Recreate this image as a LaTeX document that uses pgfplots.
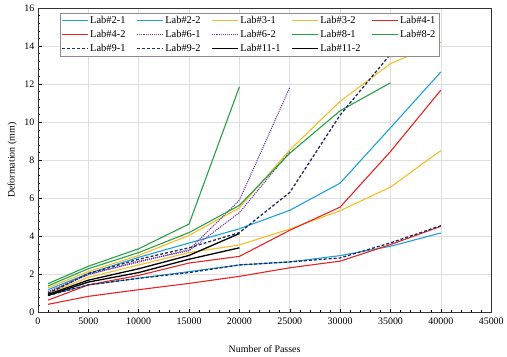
\documentclass[border=0pt]{standalone}
\usepackage{pgfplots}
\pgfplotsset{compat=1.18}
\usepackage{fontspec}
\setmainfont{Liberation Serif}
\definecolor{cblue}{RGB}{30,160,220}
\definecolor{cyellow}{RGB}{245,190,40}
\definecolor{cred}{RGB}{230,35,35}
\definecolor{cgreen}{RGB}{40,160,70}
\definecolor{cpurple}{RGB}{112,60,160}
\definecolor{cnavy}{RGB}{31,45,96}
\begin{document}
\begin{tikzpicture}
\begin{axis}[
  scale only axis, width=454bp, height=305bp,
  xmin=0, xmax=45000, ymin=0, ymax=16,
  xtick={0,5000,...,45000}, ytick={0,2,...,16},
  minor x tick num=4, minor y tick num=4,
  scaled x ticks=false,
  /pgf/number format/.cd, 1000 sep={}, assume math mode=true,
  /pgfplots/.cd,
  tick pos=left, tick align=inside,
  major tick length=4bp, minor tick length=2.5bp,
  grid=major, major grid style={draw=black!13, line width=0.6pt},
  axis line style={black!80, line width=0.8pt},
  every tick/.style={black, line width=0.5pt},
  tick label style={font=\fontsize{10}{12}\selectfont},
  xticklabel style={yshift=-2bp},
  xlabel={Number of Passes}, ylabel={Deformation (mm)},
  label style={font=\fontsize{10.5}{12}\selectfont},
  every axis x label/.style={at={(axis description cs:0.5,-0.121)}, anchor=center},
  every axis y label/.style={at={(axis description cs:-0.057,0.5)}, rotate=90, anchor=center},
  legend columns=5,
  legend cell align=left,
  legend image code/.code={\draw[#1] (0cm,0cm) -- (0.9cm,0cm);},
  legend style={at={(axis description cs:0.048,0.984)}, anchor=north west,
    draw=black!45, fill=white,
    font=\fontsize{10.5}{11}\selectfont, inner sep=1.5pt, row sep=1pt,
    /tikz/every even column/.append style={column sep=9bp}},
]
\addplot[cblue, line width=1.1pt] coordinates {(1000,0.9)(5000,1.45)(10000,1.8)(15000,2.15)(20000,2.5)(25000,2.66)(30000,2.99)(35000,3.48)(40000,4.18)};
\addlegendentry{Lab\#2-1}
\addplot[cblue, line width=1.1pt] coordinates {(1000,1.2)(5000,2.05)(10000,2.9)(15000,3.65)(20000,4.4)(25000,5.37)(30000,6.8)(35000,9.71)(40000,12.64)};
\addlegendentry{Lab\#2-2}
\addplot[cyellow, line width=1.1pt] coordinates {(1000,1.3)(5000,2.15)(10000,3.0)(15000,4.05)(20000,5.5)(25000,8.54)(30000,11.1)(35000,13.08)(40000,14.2)};
\addlegendentry{Lab\#3-1}
\addplot[cyellow, line width=1.1pt] coordinates {(1000,1.0)(5000,1.85)(10000,2.5)(15000,3.15)(20000,3.55)(25000,4.39)(30000,5.35)(35000,6.59)(40000,8.51)};
\addlegendentry{Lab\#3-2}
\addplot[cred, line width=1.1pt] coordinates {(1000,0.65)(5000,1.45)(10000,1.95)(15000,2.6)(20000,2.95)(25000,4.32)(30000,5.54)(35000,8.46)(40000,11.69)};
\addlegendentry{Lab\#4-1}
\addplot[cred, line width=1.1pt] coordinates {(1000,0.43)(5000,0.85)(10000,1.2)(15000,1.53)(20000,1.9)(25000,2.35)(30000,2.7)(35000,3.57)(40000,4.53)};
\addlegendentry{Lab\#4-2}
\addplot[cpurple, densely dotted, line width=1.1pt] coordinates {(1000,1.05)(5000,2.0)(10000,2.65)(15000,3.3)(20000,5.9)(25000,11.83)};
\addlegendentry{Lab\#6-1}
\addplot[cpurple, densely dotted, line width=1.1pt] coordinates {(1000,1.1)(5000,2.0)(10000,2.7)(15000,3.25)(20000,5.25)(25000,8.45)};
\addlegendentry{Lab\#6-2}
\addplot[cgreen, line width=1.1pt] coordinates {(1000,1.4)(5000,2.3)(10000,3.15)(15000,4.2)(20000,5.63)(25000,8.37)(30000,10.6)(35000,12.07)};
\addlegendentry{Lab\#8-1}
\addplot[cgreen, line width=1.1pt] coordinates {(1000,1.52)(5000,2.43)(10000,3.35)(15000,4.65)(20000,11.86)};
\addlegendentry{Lab\#8-2}
\addplot[cnavy, dash pattern=on 3pt off 2pt, line width=1.3pt] coordinates {(1000,1.0)(5000,2.05)(10000,2.8)(15000,3.4)(20000,4.2)(25000,6.31)(30000,10.38)(35000,13.57)};
\addlegendentry{Lab\#9-1}
\addplot[cnavy, dash pattern=on 3pt off 2pt, line width=1.3pt] coordinates {(1000,0.9)(5000,1.45)(10000,1.8)(15000,2.1)(20000,2.5)(25000,2.66)(30000,2.87)(35000,3.66)(40000,4.56)};
\addlegendentry{Lab\#9-2}
\addplot[black, line width=1.3pt] coordinates {(1000,0.95)(5000,1.7)(10000,2.3)(15000,3.0)(20000,4.15)};
\addlegendentry{Lab\#11-1}
\addplot[black, line width=1.3pt] coordinates {(1000,0.9)(5000,1.6)(10000,2.1)(15000,2.8)(20000,3.4)};
\addlegendentry{Lab\#11-2}
\end{axis}
\path ([xshift=-38bp,yshift=-44bp]current axis.south west) rectangle ([xshift=15bp,yshift=8bp]current axis.north east);
\end{tikzpicture}
\end{document}
